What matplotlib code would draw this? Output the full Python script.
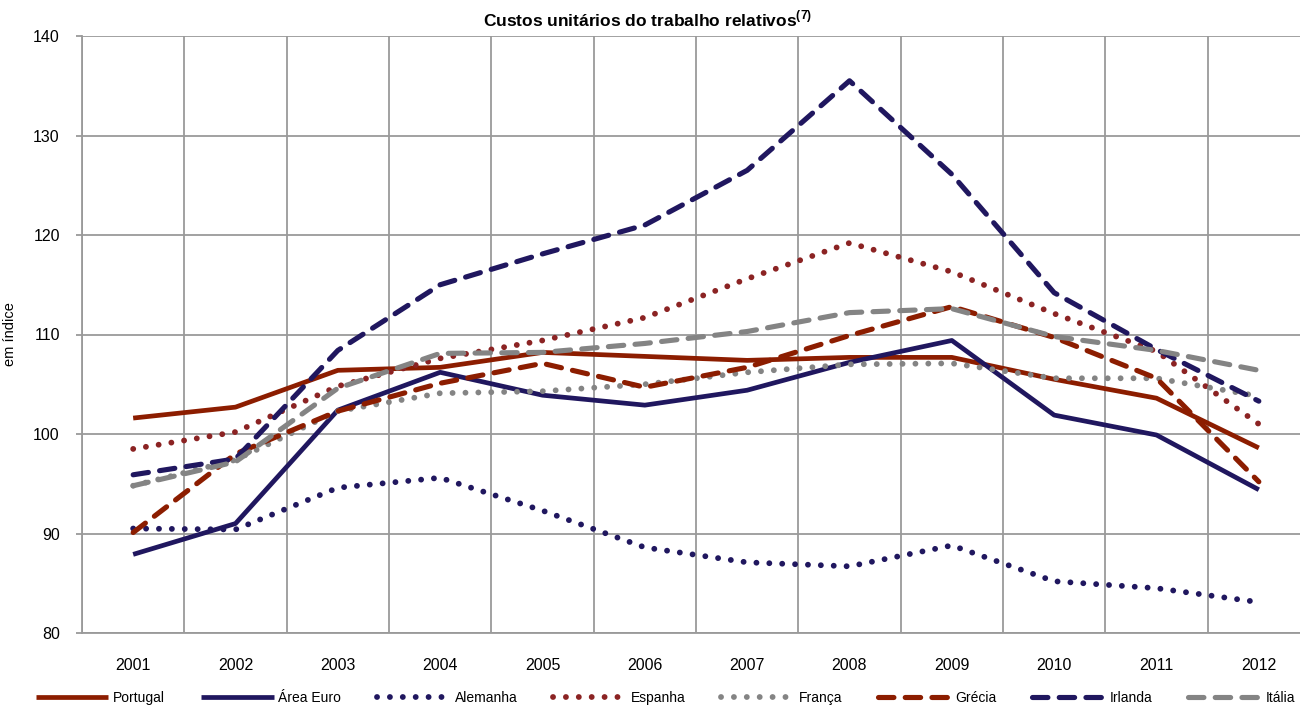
import numpy as np
import matplotlib
matplotlib.use("Agg")
import matplotlib.pyplot as plt

plt.rcParams['font.family'] = ['Liberation Sans', 'DejaVu Sans']
plt.rcParams['mathtext.fontset'] = 'custom'
plt.rcParams['mathtext.rm'] = 'Liberation Sans'
plt.rcParams['mathtext.bf'] = 'Liberation Sans:bold'

# dados (índice)
anos = ['2001', '2002', '2003', '2004', '2005', '2006',
        '2007', '2008', '2009', '2010', '2011', '2012']
portugal = [101.6, 102.7, 106.4, 106.7, 108.2, 107.8, 107.4, 107.7, 107.7, 105.5, 103.6, 98.6]
area_euro = [87.9, 91.0, 102.4, 106.2, 103.9, 102.9, 104.4, 107.2, 109.4, 101.9, 99.9, 94.4]
alemanha = [90.5, 90.4, 94.6, 95.6, 92.3, 88.6, 87.1, 86.7, 88.8, 85.2, 84.5, 83.1]
espanha = [98.5, 100.2, 104.8, 107.6, 109.4, 111.7, 115.6, 119.2, 116.3, 112.1, 108.3, 101.0]
franca = [94.8, 97.4, 102.3, 104.1, 104.3, 105.0, 106.2, 107.0, 107.1, 105.6, 105.6, 103.8]
grecia = [90.1, 98.0, 102.3, 105.1, 107.1, 104.7, 106.7, 109.9, 112.8, 109.7, 105.6, 95.2]
irlanda = [95.9, 97.5, 108.4, 115.0, 118.1, 121.0, 126.5, 135.5, 126.1, 114.2, 108.5, 103.3]
italia = [94.8, 97.2, 104.6, 108.1, 108.2, 109.1, 110.3, 112.2, 112.6, 109.8, 108.4, 106.4]

vermelho = '#8C1D00'
vermelho2 = '#8B2323'
azul = '#20175F'
cinza = '#848484'

solido = '-'
pontos = (0, (0.01, 2.2))
tracos = (0, (3.0, 2.2))

series = [
    ('Portugal', portugal, vermelho, solido, 3.4),
    ('Área Euro', area_euro, azul, solido, 3.4),
    ('Alemanha', alemanha, azul, pontos, 4.2),
    ('Espanha', espanha, vermelho2, pontos, 4.2),
    ('França', franca, cinza, pontos, 4.2),
    ('Grécia', grecia, vermelho, tracos, 3.7),
    ('Irlanda', irlanda, azul, tracos, 3.7),
    ('Itália', italia, cinza, tracos, 3.7),
]

fig = plt.figure(figsize=(13, 7.07), dpi=100)
ax = fig.add_axes([82 / 1300, 1 - 633 / 707, 1228 / 1300, 597 / 707])

x = np.arange(len(anos))
for nome, vals, cor, estilo, lw in series:
    ax.plot(x, vals, color=cor, linestyle=estilo, linewidth=lw,
            solid_capstyle='butt', dash_capstyle='round', label=nome)

ax.set_xlim(-0.5, len(anos) - 0.5)
ax.set_ylim(80, 140)
ax.set_yticks(np.arange(80, 141, 10))
ax.set_xticks(x)
ax.set_xticklabels(anos)
ax.set_xticks(np.arange(-0.5, len(anos), 1), minor=True)

grid_cor = '#9A9A9A'
ax.grid(axis='y', which='major', color=grid_cor, linewidth=1.3)
ax.grid(axis='x', which='minor', color=grid_cor, linewidth=1.3)
ax.set_axisbelow(True)
for s in ['top', 'right']:
    ax.spines[s].set_visible(False)
ax.spines['left'].set_color(grid_cor)
ax.spines['bottom'].set_color(grid_cor)
ax.spines['left'].set_linewidth(1.3)
ax.spines['bottom'].set_linewidth(1.3)

ax.tick_params(axis='x', which='both', length=0, pad=18, labelsize=11.5)
ax.tick_params(axis='y', length=4, width=1.3, color=grid_cor, pad=12, labelsize=11.5)
ax.set_ylabel('em índice', fontsize=10.5)
ax.yaxis.set_label_coords(-65 / 1228, 0.5)

fig.text(0.498, 1 - 19 / 707, r'Custos unitários do trabalho relativos$^{\mathbf{(7)}}$',
         ha='center', va='center', fontsize=12.5, fontweight='bold')

handles, labels = ax.get_legend_handles_labels()
fig.legend(handles, labels, loc='center', bbox_to_anchor=(0.512, 1 - 698 / 707),
           ncol=8, frameon=False, fontsize=10, handlelength=5.2,
           handletextpad=0.35, columnspacing=2.6, borderaxespad=0)

fig.savefig('out.png', dpi=100)
